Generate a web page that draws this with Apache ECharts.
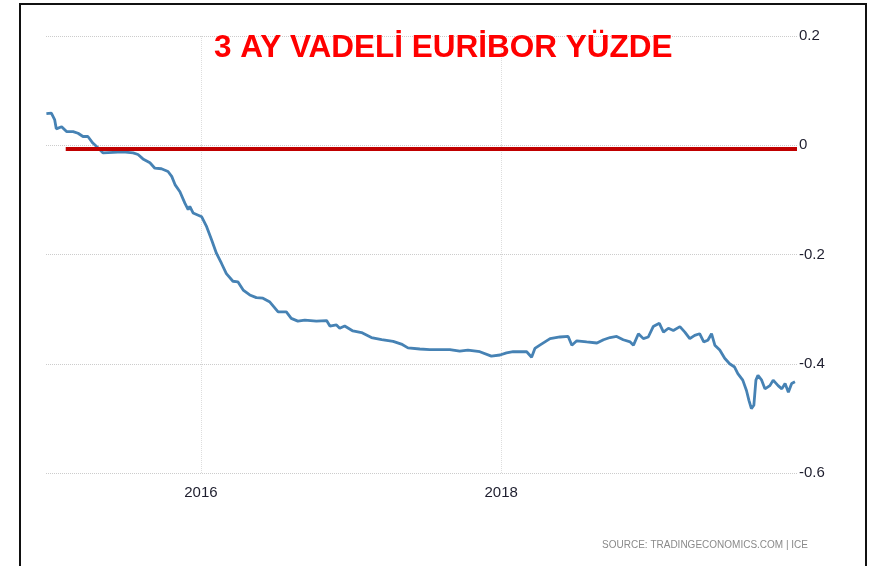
<!DOCTYPE html>
<html>
<head>
<meta charset="utf-8">
<script src="https://cdn.jsdelivr.net/npm/echarts@6/dist/echarts.min.js"></script>
<style>
  html, body { margin:0; padding:0; background:#fff; overflow:hidden; }
  #chart { position:absolute; left:0; top:0; width:869px; height:566px; }
  #frame { position:absolute; left:19px; top:3px; width:844px; height:620px;
           border:2px solid #111; border-bottom:none; pointer-events:none; }
</style>
</head>
<body>
<div id="chart"></div>
<div id="frame"></div>
<script>
// 3 aylik Euribor (%)
var dates = [
  '2014-12-21','2015-01-02','2015-01-10','2015-01-14','2015-01-27','2015-02-08','2015-02-24','2015-03-08',
  '2015-03-20','2015-04-01','2015-04-13','2015-04-26','2015-05-08','2015-06-01','2015-06-25','2015-07-20',
  '2015-08-01','2015-08-13','2015-08-30','2015-09-11','2015-09-27','2015-10-13','2015-10-22','2015-10-30',
  '2015-11-11','2015-11-23','2015-12-01','2015-12-05','2015-12-13','2016-01-03','2016-01-15','2016-01-27',
  '2016-02-08','2016-02-20','2016-03-03','2016-03-19','2016-03-31','2016-04-13','2016-04-29','2016-05-15',
  '2016-05-31','2016-06-17','2016-07-07','2016-07-27','2016-08-08','2016-08-24','2016-09-10','2016-10-08',
  '2016-11-02','2016-11-10','2016-11-26','2016-12-04','2016-12-16','2017-01-05','2017-01-26','2017-02-19',
  '2017-03-16','2017-04-13','2017-05-03','2017-05-19','2017-06-17','2017-07-11','2017-08-04','2017-08-29',
  '2017-09-22','2017-10-12','2017-11-10','2017-12-08','2017-12-29','2018-01-14','2018-01-30','2018-02-15',
  '2018-03-04','2018-03-16','2018-03-24','2018-04-05','2018-04-30','2018-05-24','2018-06-13','2018-06-22',
  '2018-07-04','2018-07-28','2018-08-22','2018-09-07','2018-09-23','2018-10-09','2018-10-25','2018-11-11',
  '2018-11-19','2018-12-01','2018-12-13','2018-12-25','2019-01-06','2019-01-21','2019-01-31','2019-02-12',
  '2019-02-24','2019-03-12','2019-03-24','2019-04-05','2019-04-17','2019-04-29','2019-05-09','2019-05-19',
  '2019-05-28','2019-06-05','2019-06-17','2019-06-29','2019-07-11','2019-07-23','2019-07-31','2019-08-12',
  '2019-08-21','2019-08-27','2019-09-02','2019-09-08','2019-09-13','2019-09-18','2019-09-27','2019-10-05',
  '2019-10-17','2019-10-25','2019-11-06','2019-11-15','2019-11-23','2019-12-01','2019-12-09','2019-12-17'
];
var rates = [
  0.058,0.059,0.047,0.030,0.034,0.025,0.025,0.022,
  0.016,0.016,0.004,-0.005,-0.014,-0.013,-0.012,-0.014,
  -0.017,-0.025,-0.032,-0.042,-0.043,-0.048,-0.057,-0.072,
  -0.085,-0.106,-0.118,-0.112,-0.124,-0.131,-0.149,-0.173,
  -0.198,-0.216,-0.235,-0.249,-0.250,-0.265,-0.274,-0.279,
  -0.280,-0.287,-0.305,-0.305,-0.317,-0.322,-0.320,-0.322,
  -0.321,-0.331,-0.329,-0.335,-0.331,-0.340,-0.343,-0.352,
  -0.356,-0.359,-0.364,-0.371,-0.373,-0.374,-0.374,-0.374,
  -0.377,-0.375,-0.378,-0.386,-0.384,-0.380,-0.378,-0.378,
  -0.378,-0.388,-0.372,-0.366,-0.354,-0.351,-0.350,-0.366,
  -0.358,-0.360,-0.362,-0.356,-0.352,-0.350,-0.356,-0.360,
  -0.366,-0.345,-0.354,-0.351,-0.332,-0.326,-0.342,-0.335,
  -0.339,-0.332,-0.342,-0.354,-0.348,-0.345,-0.360,-0.357,
  -0.345,-0.366,-0.375,-0.390,-0.400,-0.406,-0.418,-0.430,
  -0.449,-0.467,-0.482,-0.476,-0.430,-0.421,-0.430,-0.446,
  -0.440,-0.430,-0.440,-0.446,-0.436,-0.452,-0.436,-0.433
];
var xTicks = ['2016-01-01', '2018-01-01'];
var xMin = '2014-12-20', xMax = '2019-12-22';
var yMin = -0.6, yMax = 0.2, yStep = 0.2;
// kirmizi sifir cizgisi (elle eklenmis)
var redLineStart = '2015-02-06', redLineEnd = '2019-12-22', redLineLevel = -0.0065;

function ts(d) { // 'yyyy-mm-dd' -> zaman damgasi
  var p = d.split('-');
  return new Date(+p[0], +p[1] - 1, +p[2]).getTime();
}
var seriesData = [];
for (var i = 0; i < dates.length; i++) {
  seriesData.push([ts(dates[i]), rates[i]]);
}
var tickValues = xTicks.map(ts);

var chart = echarts.init(document.getElementById('chart'), null, {renderer: 'canvas'});
var font = '"Liberation Sans", Arial, sans-serif';
chart.setOption({
  animation: false,
  backgroundColor: '#fff',
  title: [{
    text: '3 AY VADELİ EURİBOR YÜZDE',
    left: 209, top: 27,
    textStyle: { color: '#ff0000', fontFamily: font, fontWeight: 'bold', fontSize: 31.5 }
  }, {
    text: 'SOURCE: TRADINGECONOMICS.COM | ICE',
    right: 56, top: 535,
    textStyle: { color: '#8a8a8a', fontFamily: font, fontWeight: 'normal', fontSize: 10 }
  }],
  grid: { left: 46, right: 72, top: 36, bottom: 93 },
  xAxis: {
    type: 'value',
    min: ts(xMin), max: ts(xMax),
    axisLine: { show: false },
    axisTick: { show: true, customValues: tickValues, length: 5, lineStyle: { color: '#ddd' } },
    axisLabel: {
      customValues: tickValues,
      color: '#1e1e2e', fontFamily: font, fontSize: 15, margin: 12,
      formatter: function (v) { return String(new Date(v).getFullYear()); }
    },
    splitLine: { show: true, lineStyle: { color: '#ddd', type: 'dotted', width: 1 } }
  },
  yAxis: {
    type: 'value',
    position: 'right',
    min: yMin, max: yMax, interval: yStep,
    axisLine: { show: false },
    axisTick: { show: false },
    axisLabel: { color: '#1e1e2e', fontFamily: font, fontSize: 15, margin: 2 },
    splitLine: { show: true, lineStyle: { color: '#ccc', type: 'dotted', width: 1 } }
  },
  series: [{
    name: 'Euribor 3M',
    type: 'line',
    data: seriesData,
    showSymbol: false,
    lineStyle: { color: '#4682b4', width: 2.8 },
    markLine: {
      silent: true,
      symbol: ['none', 'none'],
      label: { show: false },
      lineStyle: { color: '#c00000', width: 4, type: 'solid' },
      data: [[{ coord: [ts(redLineStart), redLineLevel] }, { coord: [ts(redLineEnd), redLineLevel] }]]
    }
  }]
});
</script>
</body>
</html>
